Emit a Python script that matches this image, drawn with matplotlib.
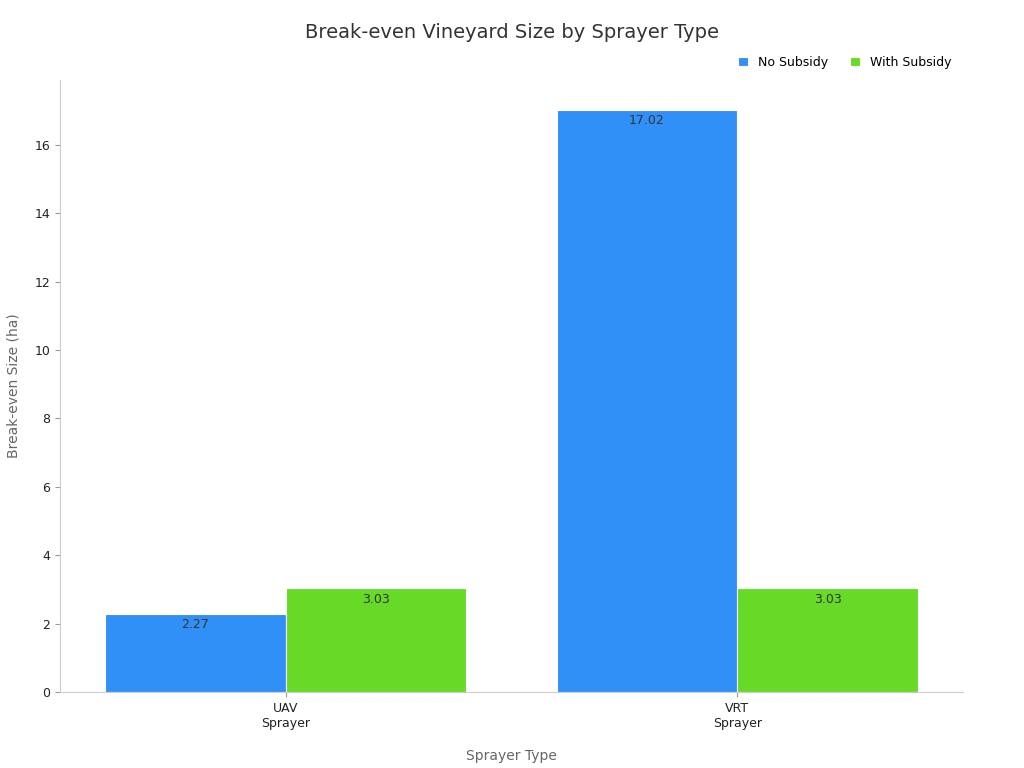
import matplotlib
matplotlib.use("Agg")
import matplotlib.pyplot as plt
import numpy as np

categories = ["UAV\nSprayer", "VRT\nSprayer"]
no_subsidy = [2.27, 17.02]
with_subsidy = [3.03, 3.03]

fig = plt.figure(figsize=(10.24, 7.68), dpi=100)
ax = fig.add_axes([60 / 1024, 1 - 692 / 768, 903 / 1024, 612 / 768])

x = np.arange(len(categories))
w = 0.4
b1 = ax.bar(x - w / 2, no_subsidy, w, color="#3090F8", edgecolor="white", linewidth=0.8, label="No Subsidy")
b2 = ax.bar(x + w / 2, with_subsidy, w, color="#66DA26", edgecolor="white", linewidth=0.8, label="With Subsidy")

for bars, vals in ((b1, no_subsidy), (b2, with_subsidy)):
    for rect, v in zip(bars, vals):
        ax.text(rect.get_x() + rect.get_width() / 2, v - 0.12, f"{v:.2f}",
                ha="center", va="top", fontsize=9, color="#333333")

ax.set_xlim(-0.5, 1.5)
ax.set_ylim(0, 17.9)
ax.set_yticks(range(0, 17, 2))
ax.set_xticks(x)
ax.set_xticklabels(categories, fontsize=9, color="#222222")
ax.tick_params(axis="y", labelsize=9, colors="#222222")
ax.tick_params(axis="both", color="#999999")
for s in ("top", "right"):
    ax.spines[s].set_visible(False)
for s in ("left", "bottom"):
    ax.spines[s].set_color("#cccccc")

ax.set_xlabel("Sprayer Type", fontsize=10, color="#666666", labelpad=14)
ax.set_ylabel("Break-even Size (ha)", fontsize=10, color="#666666", labelpad=10)
fig.text(0.5, 1 - 33 / 768, "Break-even Vineyard Size by Sprayer Type",
         ha="center", va="center", fontsize=14, color="#333333")
ax.legend(loc="lower right", bbox_to_anchor=(1.0, 1.0), ncol=2, frameon=False,
          fontsize=9, handlelength=0.8, handleheight=0.8, columnspacing=1.8)

fig.savefig("out.png", dpi=100)
